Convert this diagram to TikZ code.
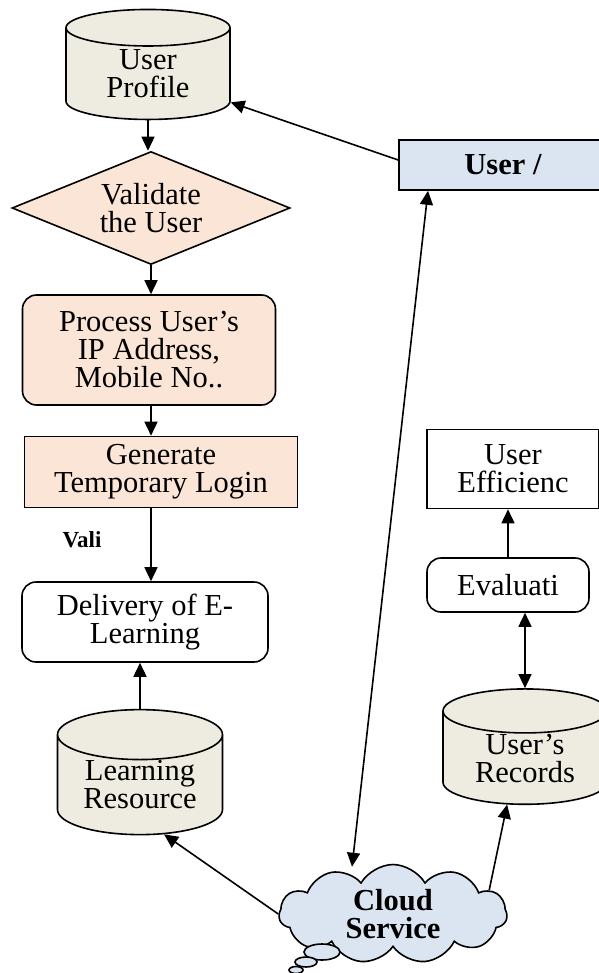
\documentclass[tikz,border=0pt]{standalone}
\usepackage{fontspec}
\setmainfont{Liberation Serif}
\usetikzlibrary{positioning,shapes.geometric,shapes.symbols,arrows.meta}

\definecolor{storefill}{RGB}{238,236,225}
\definecolor{stepfill}{RGB}{251,229,214}
\definecolor{cloudfill}{RGB}{219,229,241}

\tikzset{
  every node/.style={font=\fontsize{30.5}{28}\selectfont, align=center, line width=1.6pt},
  store/.style={cylinder, shape border rotate=90, aspect=0.44, draw, fill=storefill, inner sep=0pt},
  plainbox/.style={rectangle, draw, inner sep=0pt},
  roundbox/.style={rectangle, rounded corners=14pt, draw, inner sep=0pt},
  link/.style={line width=1.6pt}
}

\begin{document}
\begin{tikzpicture}[x=1pt,y=-1pt,>={Triangle[length=14pt,width=13pt]}]
  \useasboundingbox (0,0) rectangle (598,973);
  % left column
  \node (profile) [store,minimum width=164pt,minimum height=110pt] at (148,74) {User\\Profile};
  \node (validate) [diamond,draw,fill=stepfill,aspect=2.46,inner sep=0pt,minimum width=278pt,minimum height=113pt] at (151,208) {Validate\\the User};
  \node (process) [roundbox,fill=stepfill,minimum width=253pt,minimum height=110pt] at (149,350) {Process User's\\IP Address,\\Mobile No..};
  \node (generate) [plainbox,fill=stepfill,minimum width=273pt,minimum height=71pt] at (161,472) {Generate\\Temporary Login};
  \node (vali) at (82,540) {\fontsize{23}{23}\selectfont\bfseries Vali};
  \node (delivery) [roundbox,minimum width=246pt,minimum height=80pt] at (145,622) {Delivery of E-\\Learning};
  \node (learning) [store,minimum width=165pt,minimum height=125pt] at (140,785) {Learning\\Resource};
  % right column
  \node (user) [plainbox,fill=cloudfill,minimum width=208pt,minimum height=50pt] at (503,165) {\bfseries User /};
  \node (efficiency) [plainbox,minimum width=172pt,minimum height=79pt] at (513,469) {User\\Efficienc};
  \node (evaluation) [roundbox,minimum width=162pt,minimum height=54pt] at (508,585) {Evaluati};
  \node (records) [store,minimum width=164pt,minimum height=108pt] at (525,758) {User's\\Records};
  % cloud with its trailing bubbles
  \node (cloud) [cloud,cloud puffs=11,cloud puff arc=120,aspect=2.8,draw,fill=cloudfill,inner sep=0pt,minimum width=228pt,minimum height=72pt] at (393,914) {\bfseries Cloud\\\bfseries Service};
  \draw[line width=1.6pt,fill=cloudfill] ([shift={(-71pt,-38pt)}]cloud.center) ellipse (18pt and 8pt);
  \draw[line width=1.6pt,fill=cloudfill] ([shift={(-87pt,-48pt)}]cloud.center) ellipse (11pt and 5pt);
  \draw[line width=1.6pt,fill=cloudfill] ([shift={(-97pt,-56pt)}]cloud.center) ellipse (7pt and 3.5pt);

  \draw[link,->] (profile) -- (profile |- validate.north);
  \draw[link,->] (validate) -- (process.north -| validate);
  \draw[link,->] (process.south -| validate) -- (generate.north -| validate);
  \draw[link,->] (generate.south -| validate) -- (delivery.north -| validate);
  \draw[link,->] (learning) -- (delivery.south -| learning);
  \draw[link,->] ([yshift=5pt]user.west) -- (profile);
  \draw[link,<->] ([xshift=-75pt]user.south) -- ([xshift=-41pt,yshift=-3pt]cloud.north);
  \draw[link,->] (cloud.west) -- (learning.-64);
  \draw[link,->] (cloud.14) -- (records.-111);
  \draw[link,->] (evaluation.north) -- (evaluation.north |- efficiency.south);
  \draw[link,<->] (evaluation.south -| records) -- (records);
\end{tikzpicture}
\end{document}
